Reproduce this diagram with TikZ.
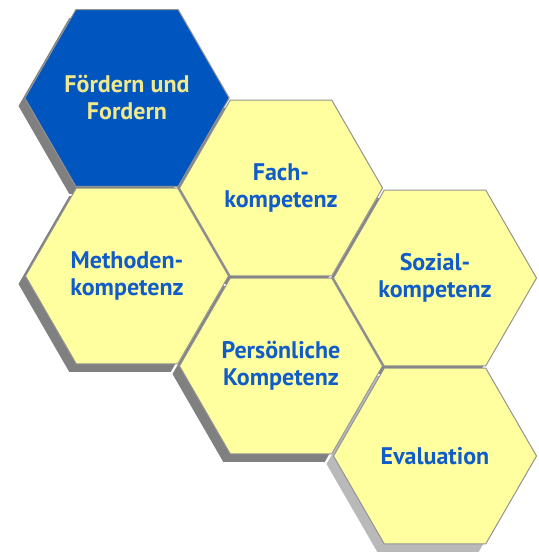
\documentclass[tikz,border=0pt]{standalone}
\usepackage{fontspec}
\setmainfont{PT Sans}
\usepackage{tikz}
\usetikzlibrary{shapes.geometric}
\definecolor{hexyellow}{RGB}{255,255,160}
\definecolor{hexblue}{RGB}{0,86,190}
\definecolor{textblue}{RGB}{16,92,200}
\definecolor{textyellow}{RGB}{240,232,140}
\tikzset{
  hexbox/.style={regular polygon, regular polygon sides=6, minimum size=203pt,
    inner sep=0pt, fill=hexyellow, draw=gray!85, line width=1pt,
    text=textblue, font=\fontsize{24}{27}\selectfont\bfseries, align=center},
  hexshadow/.style={regular polygon, regular polygon sides=6, minimum size=203pt,
    inner sep=0pt, fill=gray}
}
\begin{document}
\begin{tikzpicture}[x=1pt,y=-1pt]
      \useasboundingbox (0,0) rectangle (538,553);
      % centres of the honeycomb
      \coordinate (c1) at (127,98);
      \coordinate (c2) at (127,276);
      \coordinate (c3) at (281,188);
      \coordinate (c4) at (281,366);
      \coordinate (c5) at (435,278);
      \coordinate (c6) at (435,456);
      % shadows first
      \foreach \c in {c1,c2,c3,c4,c5}
        \node[hexshadow] at ([shift={(-7,8)}]\c) {};
      \node[hexshadow, fill=gray!55] at ([shift={(-7,8)}]c6) {};
      % the cells
      \node[hexbox, fill=hexblue, text=textyellow] (foerdern) at (c1) {F\"ordern und\\Fordern};
      \node[hexbox] (methoden) at (c2) {Methoden-\\kompetenz};
      \node[hexbox] (fach) at (c3) {Fach-\\kompetenz};
      \node[hexbox] (person) at (c4) {Pers\"onliche\\Kompetenz};
      \node[hexbox] (sozial) at (c5) {Sozial-\\kompetenz};
      \node[hexbox] (eval) at (c6) {Evaluation};
\end{tikzpicture}
\end{document}
